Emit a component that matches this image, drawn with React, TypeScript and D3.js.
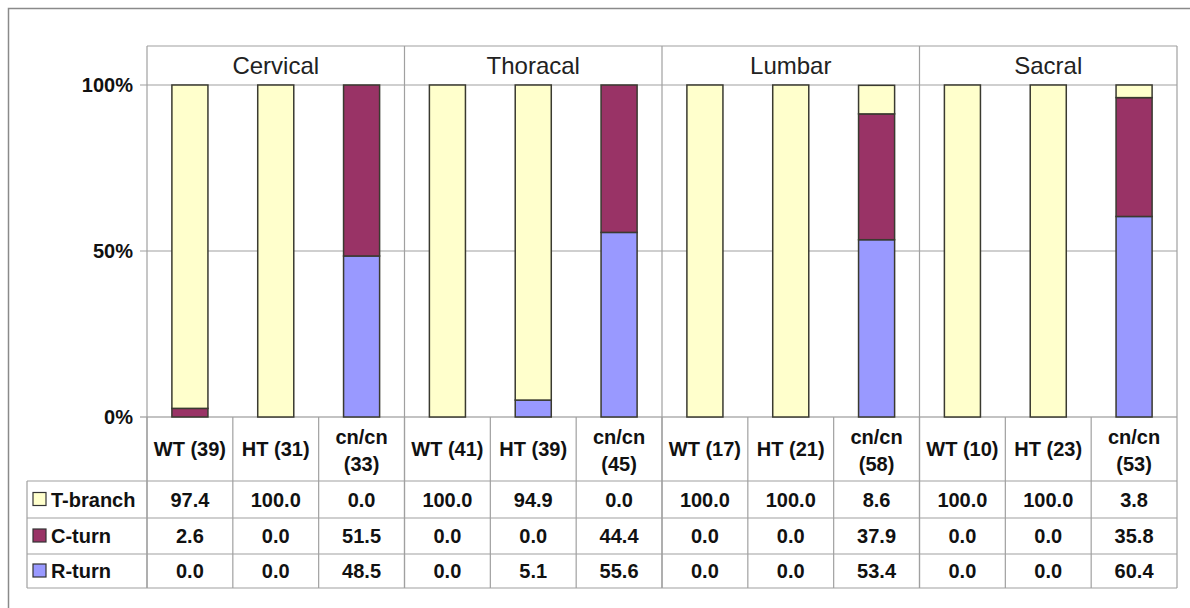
import React from "react";
import * as d3 from "d3";

const regions = ["Cervical", "Thoracal", "Lumbar", "Sacral"];
const genotypes = ["WT (39)", "HT (31)", "cn/cn|(33)", "WT (41)", "HT (39)", "cn/cn|(45)", "WT (17)", "HT (21)", "cn/cn|(58)", "WT (10)", "HT (23)", "cn/cn|(53)"];
const tBranch = [97.4, 100.0, 0.0, 100.0, 94.9, 0.0, 100.0, 100.0, 8.6, 100.0, 100.0, 3.8];
const cTurn = [2.6, 0.0, 51.5, 0.0, 0.0, 44.4, 0.0, 0.0, 37.9, 0.0, 0.0, 35.8];
const rTurn = [0.0, 0.0, 48.5, 0.0, 5.1, 55.6, 0.0, 0.0, 53.4, 0.0, 0.0, 60.4];
const yTicks = [0, 50, 100];

const seriesNames = ["T-branch", "C-turn", "R-turn"];
const seriesColors = ["#FFFFCC", "#993366", "#9999FF"];
const seriesValues = [tBranch, cTurn, rTurn];

export default function App() {
  const W = 1190, H = 608;
  const left = 147, right = 1177;
  const headerTop = 46, plotTop = 85, plotBottom = 417;
  const catBottom = 481;
  const rowBounds = [481, 518, 554, 588];
  const legendLeft = 27;

  const x = d3.scaleBand<number>().domain(d3.range(genotypes.length)).range([left, right]).padding(0);
  const gx = d3.scaleBand<number>().domain(d3.range(regions.length)).range([left, right]).padding(0);
  const y = d3.scaleLinear().domain([0, 100]).range([plotBottom, plotTop]);
  const bw = x.bandwidth() * 0.42;

  // stack order bottom->top: R-turn, C-turn, T-branch
  const stackKeys = ["r", "c", "t"];
  const stackData = genotypes.map((_, i) => ({ r: rTurn[i], c: cTurn[i], t: tBranch[i] }));
  const stacked = d3.stack<any>().keys(stackKeys)(stackData);
  const keyColor: Record<string, string> = { r: "#9999FF", c: "#993366", t: "#FFFFCC" };

  const grid = "#a0a0a0";
  const font = "Arial, 'Liberation Sans', sans-serif";
  const fs = 20;

  return (
    <svg width={W} height={H} style={{ position: "absolute", left: 0, top: 0, background: "#fff" }} fontFamily={font}>
      <rect x={0} y={0} width={W} height={H} fill="#fff" />
      {/* outer frame */}
      <path d={`M8.5,${H}V8.5H${W}`} fill="none" stroke="#8a8a8a" strokeWidth={1.5} />

      {/* header box */}
      <line x1={left} x2={right} y1={headerTop} y2={headerTop} stroke={grid} strokeWidth={1.2} />
      {regions.map((r, i) => (
        <text key={r} x={(gx(i) as number) + gx.bandwidth() / 2} y={(headerTop + plotTop) / 2 + 8.5} textAnchor="middle" fontSize={24} fill="#222">{r}</text>
      ))}

      {/* gridlines */}
      {yTicks.map((t) => (
        <g key={t}>
          <line x1={140} x2={right} y1={y(t)} y2={y(t)} stroke={t === 0 ? "#888" : grid} strokeWidth={1.2} />
          <text x={133} y={y(t) + 7} textAnchor="end" fontSize={fs} fontWeight="bold" fill="#111">{t}%</text>
        </g>
      ))}

      {/* vertical group dividers through header + plot */}
      {d3.range(regions.length + 1).map((i) => {
        const xx = i < regions.length ? (gx(i) as number) : right;
        return <line key={i} x1={xx} x2={xx} y1={headerTop} y2={rowBounds[3]} stroke={grid} strokeWidth={1.2} />;
      })}

      {/* bars */}
      {stacked.map((layer) => (
        <g key={layer.key}>
          {layer.map((d, i) => {
            const h = y(d[0]) - y(d[1]);
            if (h <= 0.01) return null;
            const cx = (x(i) as number) + x.bandwidth() / 2;
            return (
              <rect key={i} x={cx - bw / 2} y={y(d[1])} width={bw} height={h} fill={keyColor[layer.key]} stroke="#3a3a30" strokeWidth={1.5} />
            );
          })}
        </g>
      ))}

      {/* table column lines */}
      {genotypes.map((_, i) => (
        <line key={i} x1={x(i) as number} x2={x(i) as number} y1={plotBottom} y2={rowBounds[3]} stroke={grid} strokeWidth={1.2} />
      ))}
      {/* table row lines */}
      {rowBounds.map((yy, i) => (
        <line key={i} x1={legendLeft} x2={right} y1={yy} y2={yy} stroke={grid} strokeWidth={1.2} />
      ))}
      <line x1={legendLeft} x2={legendLeft} y1={rowBounds[0]} y2={rowBounds[3]} stroke={grid} strokeWidth={1.2} />

      {/* category labels */}
      {genotypes.map((g, i) => {
        const cx = (x(i) as number) + x.bandwidth() / 2;
        const parts = g.split("|");
        if (parts.length === 1) {
          return <text key={i} x={cx} y={(plotBottom + catBottom) / 2 + 7} textAnchor="middle" fontSize={fs} fontWeight="bold" fill="#111">{parts[0]}</text>;
        }
        return (
          <text key={i} x={cx} textAnchor="middle" fontSize={fs} fontWeight="bold" fill="#111">
            <tspan x={cx} y={(plotBottom + catBottom) / 2 - 5}>{parts[0]}</tspan>
            <tspan x={cx} y={(plotBottom + catBottom) / 2 + 22}>{parts[1]}</tspan>
          </text>
        );
      })}

      {/* data rows */}
      {seriesNames.map((name, r) => {
        const cy = (rowBounds[r] + rowBounds[r + 1]) / 2;
        return (
          <g key={name}>
            <rect x={33} y={cy - 7} width={13} height={13} fill={seriesColors[r]} stroke="#333" strokeWidth={1.2} />
            <text x={51} y={cy + 7} fontSize={fs} fontWeight="bold" fill="#111">{name}</text>
            {seriesValues[r].map((v, i) => (
              <text key={i} x={(x(i) as number) + x.bandwidth() / 2} y={cy + 7} textAnchor="middle" fontSize={fs} fontWeight="bold" fill="#111">{v.toFixed(1)}</text>
            ))}
          </g>
        );
      })}
    </svg>
  );
}
